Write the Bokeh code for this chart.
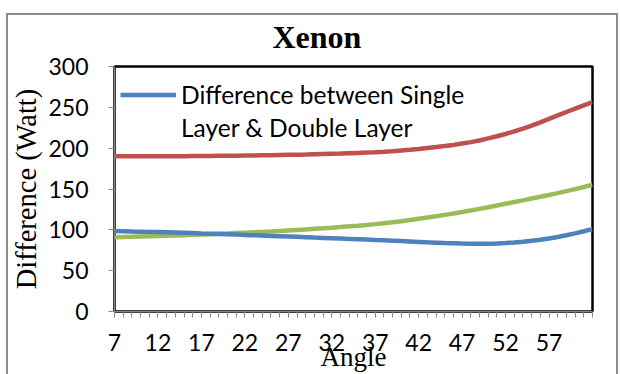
from bokeh.plotting import figure
from bokeh.models import Range1d, FixedTicker, Legend, LegendItem
from bokeh.embed import file_html
from bokeh.resources import INLINE

angles = list(range(7, 63))
series_red = [190, 190, 190, 190, 190, 190, 190, 190.1, 190.2, 190.3, 190.4, 190.5, 190.6, 190.7, 190.8,
              190.9, 191, 191.2, 191.4, 191.6, 191.8, 192, 192.2, 192.5, 192.8, 193.1, 193.4, 193.8,
              194.2, 194.6, 195, 195.6, 196.3, 197.1, 198, 199, 200.1, 201.3, 202.6, 204, 205.6,
              207.4, 209.4, 212, 214.6, 217.4, 220.5, 223.9, 227.6, 231.6, 235.8, 240.1, 244.3,
              248.4, 252.5, 256.5]
series_green = [91.0, 91.3, 91.6, 91.9, 92.2, 92.5, 92.8, 93.1, 93.5, 93.9, 94.3, 94.7, 95.1, 95.5, 96.0,
                96.5, 97.0, 97.5, 98.0, 98.6, 99.2, 99.8, 100.5, 101.2, 101.9, 102.6, 103.4, 104.3,
                105.1, 106.0, 107.0, 108.1, 109.3, 110.6, 112.0, 113.5, 115.0, 116.6, 118.3, 120.0,
                121.8, 123.7, 125.7, 127.7, 129.8, 131.9, 134.0, 136.1, 138.3, 140.5, 142.7, 145.0,
                147.4, 149.9, 152.5, 155.2]
series_blue = [98.5, 98.3, 98, 97.8, 97.5, 97.2, 96.9, 96.6, 96.3, 96, 95.6, 95.3, 95, 94.6, 94.2, 93.8,
               93.4, 93, 92.6, 92.2, 91.8, 91.4, 91, 90.5, 90.1, 89.7, 89.3, 88.9, 88.5, 88.1, 87.6,
               87.2, 86.7, 86.2, 85.7, 85.2, 84.7, 84.3, 83.9, 83.6, 83.3, 83.1, 83.0, 83.1, 83.4,
               83.9, 84.6, 85.5, 86.6, 87.9, 89.5, 91.3, 93.4, 95.7, 98.2, 100.8]
x_tick_labels = [7, 12, 17, 22, 27, 32, 37, 42, 47, 52, 57]
y_ticks = [0, 50, 100, 150, 200, 250, 300]
legend_lines = ["Difference between Single", "Layer & Double Layer"]

p = figure(width=620, height=374, output_backend="svg", toolbar_location=None,
           x_range=Range1d(7, 62), y_range=Range1d(0, 300),
           min_border_left=114, min_border_right=28, min_border_top=66, min_border_bottom=63,
           title="Xenon")
p.background_fill_color = "white"
p.border_fill_alpha = 0
gray = "#8c8c8c"
grad = f"linear-gradient({gray},{gray})"
p.styles = {"background": f"{grad} 6px 13px / 612px 2px no-repeat, {grad} 6px 13px / 2px 400px no-repeat, "
                          f"{grad} 616px 13px / 2px 400px no-repeat, white"}
p.outline_line_color = "black"
p.outline_line_width = 2.5
p.xgrid.visible = False
p.ygrid.visible = False

p.title.align = "left"
p.title.offset = 158
p.title.text_font = "Liberation Serif"
p.title.text_font_size = "32px"
p.title.text_font_style = "bold"
p.title.text_color = "black"
p.title.standoff = 24

axis_gray = "#868686"
xa = p.xaxis[0]
xa.ticker = FixedTicker(ticks=x_tick_labels, minor_ticks=angles)
xa.axis_line_color = axis_gray
xa.major_tick_line_color = axis_gray
xa.minor_tick_line_color = axis_gray
xa.major_tick_out = 6
xa.major_tick_in = 0
xa.minor_tick_out = 6
xa.minor_tick_in = 0
xa.major_label_text_font = "Lato"
xa.major_label_text_font_size = "23px"
xa.major_label_text_color = "black"
xa.major_label_standoff = 16
xa.axis_label = "Angle"
xa.axis_label_text_font = "Liberation Serif"
xa.axis_label_text_font_size = "27px"
xa.axis_label_text_font_style = "normal"
xa.axis_label_text_color = "black"
xa.axis_label_standoff = -12

ya = p.yaxis[0]
ya.ticker = FixedTicker(ticks=y_ticks, minor_ticks=[])
ya.axis_line_color = axis_gray
ya.major_tick_line_color = axis_gray
ya.major_tick_out = 6
ya.major_tick_in = 0
ya.minor_tick_out = 0
ya.minor_tick_in = 0
ya.major_label_text_font = "Lato"
ya.major_label_text_font_size = "23px"
ya.major_label_text_color = "black"
ya.major_label_standoff = 20
ya.axis_label = "Difference (Watt)"
ya.axis_label_text_font = "Liberation Serif"
ya.axis_label_text_font_size = "28.5px"
ya.axis_label_text_font_style = "normal"
ya.axis_label_text_color = "black"
ya.axis_label_standoff = 3

lw = 4.5
r_red = p.line(angles, series_red, line_color="#C0504D", line_width=lw)
r_green = p.line(angles, series_green, line_color="#9BBB59", line_width=lw)
r_blue = p.line(angles, series_blue, line_color="#4F81BD", line_width=lw)
r_blank = p.line(x=[], y=[], line_alpha=0)

legend = Legend(items=[LegendItem(label=legend_lines[0], renderers=[r_blue]),
                       LegendItem(label=legend_lines[1], renderers=[r_blank])],
                location=(6, 167), orientation="vertical",
                label_text_font="Lato", label_text_font_size="24.5px", label_text_color="black",
                glyph_width=56, glyph_height=33, label_height=33, label_standoff=5,
                spacing=0, padding=0, margin=0,
                border_line_alpha=0, background_fill_alpha=0)
p.add_layout(legend, "center")

open("out.html", "w").write(file_html(p, INLINE))
